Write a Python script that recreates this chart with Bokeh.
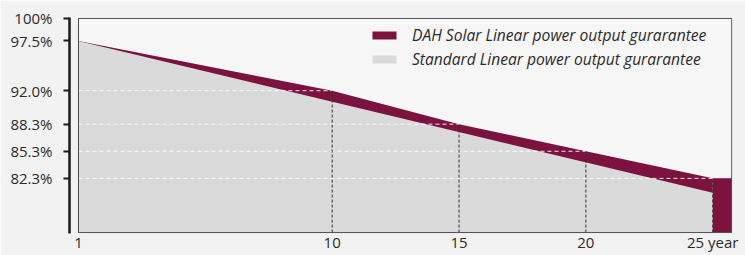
from bokeh.plotting import figure
from bokeh.models import FixedTicker, Range1d, Legend, LegendItem
from bokeh.embed import file_html
from bokeh.resources import INLINE

# ---- data ----
years = [0, 10, 15, 20, 25]            # axis positions; start of period is labelled "1"
dah = [97.5, 92.0, 88.3, 85.3, 82.3]   # DAH Solar linear guarantee (%)
std_years = [0, 25]
std = [97.5, 80.7]                     # standard linear guarantee (%)
mark_years = [10, 15, 20, 25]
mark_vals = [92.0, 88.3, 85.3, 82.3]
y_ticks = [100, 97.5, 92.0, 88.3, 85.3, 82.3]
y_labels = ["100%", "97.5%", "92.0%", "88.3%", "85.3%", "82.3%"]
x_ticks = [0, 10, 15, 20, 25]
x_labels = ["1", "10", "15", "20", "25 year"]
x_end = 25.75      # right edge of the chart box
y_bottom = 76.3    # bottom of the chart box
y_top = 100

RED = "#7c1240"
GRAY = "#dadada"
FONT = "Open Sans"
TXT = "#2e2a2b"
BG = "#f3f2f2"

p = figure(width=745, height=255, output_backend="svg", toolbar_location=None,
           x_range=Range1d(-0.354, 25.78), y_range=Range1d(76.2, 100.1),
           min_border_left=69, min_border_right=13, min_border_top=17, min_border_bottom=22)
p.outline_line_color = None
p.background_fill_color = BG
p.border_fill_color = BG
p.grid.visible = False

# chart box
p.quad(left=0, right=x_end, bottom=y_bottom, top=y_top, fill_color="#f7f6f6", line_color=None)
dah_r = p.varea(x=years, y1=y_bottom, y2=dah, fill_color=RED)
p.quad(left=years[-1], right=x_end, bottom=y_bottom, top=dah[-1], fill_color=RED, line_color=None)
std_r = p.varea(x=std_years, y1=y_bottom, y2=std, fill_color=GRAY)

# guide lines
p.segment(x0=[0] * len(mark_years), y0=mark_vals, x1=mark_years, y1=mark_vals,
          line_color="white", line_dash="4 3", line_width=1, line_alpha=0.9)
p.segment(x0=mark_years, y0=[y_bottom] * len(mark_years), x1=mark_years, y1=mark_vals,
          line_color="#333333", line_dash="3 2", line_width=1)

# box outline
p.quad(left=0, right=x_end, bottom=y_bottom, top=y_top, fill_color=None,
       line_color="#4d4d4d", line_width=1)

# axes
ya = p.yaxis[0]
ya.ticker = FixedTicker(ticks=y_ticks)
ya.major_label_overrides = dict(zip(y_ticks, y_labels))
ya.axis_line_color = "#1a1a1a"
ya.axis_line_width = 2.5
ya.major_tick_line_color = "#1a1a1a"
ya.major_tick_line_width = 2
ya.major_tick_out = 6
ya.major_tick_in = 0
ya.minor_tick_line_color = None
ya.major_label_standoff = 11
ya.major_label_text_font = FONT
ya.major_label_text_font_size = "15px"
ya.major_label_text_color = TXT

xa = p.xaxis[0]
xa.ticker = FixedTicker(ticks=x_ticks)
xa.major_label_overrides = dict(zip(x_ticks, x_labels))
xa.axis_line_color = None
xa.major_tick_line_color = None
xa.minor_tick_line_color = None
xa.major_label_standoff = -8
xa.major_label_text_font = FONT
xa.major_label_text_font_size = "15px"
xa.major_label_text_color = TXT

legend = Legend(items=[
    LegendItem(label="DAH Solar Linear power output gurarantee", renderers=[dah_r]),
    LegendItem(label="Standard Linear power output gurarantee", renderers=[std_r]),
], location=(300, 163))
legend.background_fill_alpha = 0
legend.border_line_color = None
legend.padding = 0
legend.margin = 0
legend.spacing = 2
legend.glyph_width = 30
legend.glyph_height = 10
legend.label_standoff = 13
legend.label_text_font = FONT
legend.label_text_font_style = "italic"
legend.label_text_font_size = "15.6px"
legend.label_text_color = TXT
p.add_layout(legend)

open("out.html", "w").write(file_html(p, INLINE))
